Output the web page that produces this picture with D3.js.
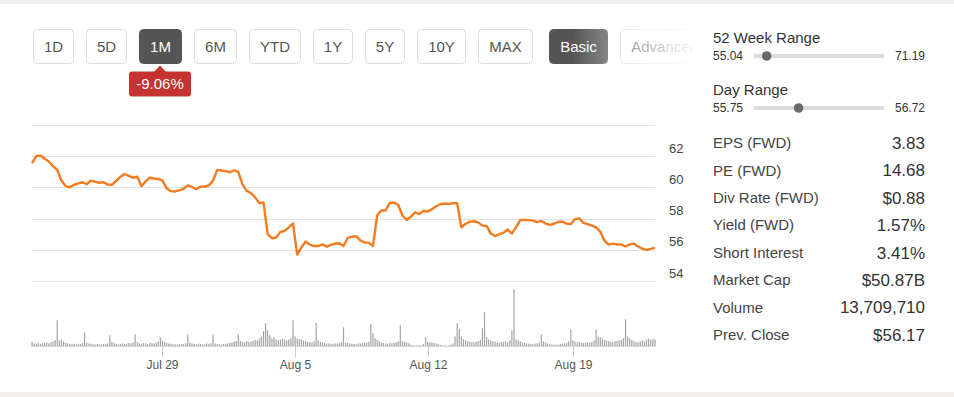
<!DOCTYPE html>
<html>
<head>
<meta charset="utf-8">
<title>Price chart</title>
<script src="https://cdn.jsdelivr.net/npm/d3@7"></script>
<style>
  body { margin: 0; background: #f2f0ef; }
  svg { display: block; font-family: "Liberation Sans", Arial, sans-serif; }
</style>
</head>
<body>
<div id="chart"></div>
<script>
// range buttons
var periods = ["1D", "5D", "1M", "6M", "YTD", "1Y", "5Y", "10Y", "MAX"];
var modes = ["Basic", "Advanced"];
var activePeriod = "1M";
var periodChange = "-9.06%";

// trading days shown in the 1M window
var days = ["Jul 22", "Jul 23", "Jul 24", "Jul 25", "Jul 26", "Jul 29", "Jul 30", "Jul 31",
  "Aug 1", "Aug 2", "Aug 5", "Aug 6", "Aug 7", "Aug 8", "Aug 9", "Aug 12", "Aug 13",
  "Aug 14", "Aug 15", "Aug 16", "Aug 19", "Aug 20", "Aug 21"];
var tickDays = ["Jul 29", "Aug 5", "Aug 12", "Aug 19"];
var yTicks = [54, 56, 58, 60, 62, 64];

// price, one point every two volume bars
var price = [61.55, 62.01, 62.04, 61.84, 61.66, 61.36, 61.12, 60.44, 60.08, 60.01,
  60.17, 60.26, 60.33, 60.20, 60.43, 60.36, 60.30, 60.33, 60.18, 60.17,
  60.42, 60.68, 60.86, 60.74, 60.62, 60.69, 60.08, 60.38, 60.62, 60.57,
  60.54, 60.43, 59.94, 59.76, 59.74, 59.81, 59.91, 60.13, 60.03, 59.88,
  60.05, 60.06, 60.13, 60.43, 61.12, 61.08, 61.04, 60.97, 61.10, 60.99,
  60.19, 59.78, 59.64, 59.36, 58.99, 59.03, 57.00, 56.74, 56.79, 57.14,
  57.21, 57.44, 57.69, 55.69, 56.15, 56.53, 56.33, 56.24, 56.24, 56.35,
  56.20, 56.32, 56.40, 56.42, 56.24, 56.76, 56.84, 56.88, 56.61, 56.46,
  56.46, 56.24, 58.20, 58.53, 58.52, 59.01, 59.03, 58.87, 58.20, 57.91,
  58.13, 58.40, 58.29, 58.50, 58.45, 58.60, 58.79, 58.92, 58.97, 58.94,
  58.99, 58.98, 57.44, 57.67, 57.79, 57.83, 57.76, 57.55, 57.53, 57.04,
  56.88, 57.01, 57.09, 57.30, 57.04, 57.46, 57.91, 57.91, 57.90, 57.87,
  57.77, 57.85, 57.68, 57.60, 57.67, 57.80, 57.80, 57.68, 57.65, 57.97,
  58.01, 57.73, 57.64, 57.55, 57.44, 57.17, 56.58, 56.33, 56.40, 56.35,
  56.34, 56.21, 56.35, 56.40, 56.21, 56.08, 55.98, 56.06, 56.14];

// volume per 30 min bar (thousands), one row per trading day
var volume = [
  [300, 210, 170, 230, 160, 190, 220, 260, 200, 280, 330, 420, 1690],
  [390, 450, 330, 240, 200, 160, 150, 170, 140, 180, 160, 220, 910],
  [240, 190, 170, 150, 130, 170, 150, 140, 160, 180, 200, 715],
  [300, 210, 180, 150, 170, 200, 160, 190, 230, 210, 260, 780],
  [280, 200, 170, 220, 190, 160, 230, 210, 190, 250, 330, 585],
  [390, 300, 220, 190, 170, 150, 140, 130, 150, 170, 160, 210, 780],
  [260, 200, 170, 150, 180, 160, 140, 150, 190, 170, 210, 780],
  [200, 170, 150, 130, 160, 180, 210, 230, 260, 300, 350, 780],
  [360, 300, 260, 330, 280, 310, 360, 420, 390, 520, 640, 980, 1500],
  [1040, 715, 520, 600, 460, 390, 430, 520, 460, 390, 450, 520, 1690],
  [650, 520, 460, 450, 390, 330, 300, 280, 260, 330, 1515],
  [400, 300, 260, 220, 190, 200, 180, 170, 210, 190, 230, 280, 1235],
  [260, 230, 200, 180, 170, 150, 200, 190, 220, 240, 260, 300, 1430],
  [845, 520, 420, 330, 260, 230, 200, 180, 220, 200, 240, 260, 330, 1365],
  [330, 300, 260, 200, 120, 80, 60, 70, 90, 80, 150, 585],
  [300, 280, 250, 230, 200, 160, 100, 70, 60, 60, 80, 120, 200, 650, 1495],
  [1150, 650, 480, 400, 350, 300, 280, 260, 300, 350, 420, 1170, 2210],
  [590, 450, 390, 330, 300, 260, 240, 280, 300, 330, 260, 390, 1040, 3700],
  [460, 390, 330, 260, 230, 200, 180, 160, 150, 180, 200, 260, 780],
  [330, 260, 200, 150, 130, 120, 110, 130, 150, 170, 200, 230, 330, 1105],
  [390, 330, 260, 300, 240, 220, 260, 280, 240, 300, 390, 1105],
  [650, 600, 520, 420, 390, 330, 300, 280, 330, 360, 390, 420, 520, 1755],
  [650, 520, 420, 330, 300, 260, 330, 390, 330, 450, 500, 420, 470, 450]
];

// key stats panel
var week52 = [55.04, 71.19];
var dayRange = [55.75, 56.72];
var lastPrice = 56.07;
var statLabels = ["EPS (FWD)", "PE (FWD)", "Div Rate (FWD)", "Yield (FWD)", "Short Interest",
  "Market Cap", "Volume", "Prev. Close"];
var statValues = ["3.83", "14.68", "$0.88", "1.57%", "3.41%", "$50.87B", "13,709,710", "$56.17"];

var W = 954, H = 397;
var svg = d3.select("#chart").append("svg")
  .attr("width", W).attr("height", H);

svg.append("rect").attr("x", 0).attr("y", 4).attr("width", W).attr("height", 388)
  .attr("fill", "#fff");

// flatten bars, remember where each day starts
var bars = [], dayStart = {};
volume.forEach(function(d, i) {
  dayStart[days[i]] = bars.length;
  d.forEach(function(v) { bars.push(v); });
});
var nBars = bars.length;
var step = (nBars - 1) / (price.length - 1);

var x = d3.scaleLinear().domain([0, nBars - 1]).range([32, 655]);
var y = d3.scaleLinear().domain([54, 64]).range([281, 125]);
var yv = d3.scaleLinear().domain([0, d3.max(bars)]).range([346.5, 289]);

// ---- buttons ----
var btnG = svg.append("g");
svg.append("clipPath").attr("id", "btnclip").append("rect")
  .attr("x", 0).attr("y", 20).attr("width", 692).attr("height", 60);
btnG.attr("clip-path", "url(#btnclip)");

var bx = 33, btnPos = {};
periods.concat(modes).forEach(function(label, i) {
  var on = label === activePeriod || label === modes[0];
  if (i === periods.length) bx += 4;
  var g = btnG.append("g");
  var r = g.append("rect").attr("y", 29.5).attr("height", 34).attr("rx", 4)
    .attr("fill", on ? "#555" : "#fff")
    .attr("stroke", on ? "#555" : "#dcdcdc");
  var t = g.append("text").attr("y", 46.5).attr("dy", "0.35em")
    .attr("text-anchor", "middle")
    .style("font-size", "15px")
    .attr("fill", on ? "#fff" : "#555")
    .text(label);
  var w = Math.round(t.node().getComputedTextLength() + 21);
  r.attr("x", bx + 0.5).attr("width", w);
  t.attr("x", bx + w / 2 + 0.5);
  btnPos[label] = bx + w / 2;
  bx += w + 13;
});

// fade at the right end of the button strip
var defs = svg.append("defs");
var fade = defs.append("linearGradient").attr("id", "fade")
  .attr("gradientUnits", "userSpaceOnUse")
  .attr("x1", 572).attr("x2", 690).attr("y1", 0).attr("y2", 0);
fade.append("stop").attr("offset", 0).attr("stop-color", "#fff").attr("stop-opacity", 0);
fade.append("stop").attr("offset", 1).attr("stop-color", "#fff").attr("stop-opacity", 0.92);
svg.append("rect").attr("x", 560).attr("y", 24).attr("width", 140).attr("height", 46)
  .attr("fill", "url(#fade)");

// change badge under the active button
var cx = btnPos[activePeriod];
svg.append("path")
  .attr("d", "M" + (cx - 6) + ",72 L" + cx + ",65.5 L" + (cx + 6) + ",72 Z")
  .attr("fill", "#c4332f");
svg.append("rect").attr("x", cx - 31).attr("y", 71.5).attr("width", 62).attr("height", 25)
  .attr("rx", 3).attr("fill", "#c4332f");
svg.append("text").attr("x", cx).attr("y", 84).attr("dy", "0.35em")
  .attr("text-anchor", "middle").style("font-size", "15px").attr("fill", "#fff")
  .text(periodChange);

// ---- price chart ----
svg.append("g").selectAll("line").data(yTicks).join("line")
  .attr("x1", 32).attr("x2", 655)
  .attr("y1", function(d) { return Math.round(y(d)) + 0.5; })
  .attr("y2", function(d) { return Math.round(y(d)) + 0.5; })
  .attr("stroke", "#e3e3e3");

svg.append("g").selectAll("text").data(yTicks.filter(function(d) { return d < 64; })).join("text")
  .attr("x", 669).attr("y", function(d) { return y(d) - 8; }).attr("dy", "0.35em")
  .style("font-size", "13px").attr("fill", "#444")
  .text(function(d) { return d; });

// volume bars
svg.append("g").selectAll("rect").data(bars).join("rect")
  .attr("x", function(d, i) { return x(i) - 0.6; })
  .attr("width", 1.2)
  .attr("y", function(d) { return yv(d); })
  .attr("height", function(d) { return yv(0) - yv(d); })
  .attr("fill", "#a3a3a3");

svg.append("line").attr("x1", 32).attr("x2", 655).attr("y1", 346.5).attr("y2", 346.5)
  .attr("stroke", "#d6d6d6");

// x axis ticks on day starts
var ticks = svg.append("g").selectAll("g").data(tickDays).join("g")
  .attr("transform", function(d) { return "translate(" + (Math.round(x(dayStart[d])) + 0.5) + ",0)"; });
ticks.append("line").attr("y1", 347).attr("y2", 357).attr("stroke", "#ccc");
ticks.append("text").attr("y", 365).attr("dy", "0.35em").attr("text-anchor", "middle")
  .style("font-size", "12px").attr("fill", "#555")
  .text(function(d) { return d; });

// price line
var line = d3.line()
  .x(function(d, i) { return x(i * step); })
  .y(function(d) { return y(d); });
svg.append("path").datum(price)
  .attr("d", line)
  .attr("fill", "none")
  .attr("stroke", "#f47b20")
  .attr("stroke-width", 2.4)
  .attr("stroke-linejoin", "round");

// ---- key stats ----
var panel = svg.append("g");
var knob = d3.scaleLinear().range([759, 879]).clamp(true);

function rangeRow(title, lo, hi, top) {
  panel.append("text").attr("x", 713).attr("y", top).attr("dy", "0.35em")
    .style("font-size", "15px").attr("fill", "#333").text(title);
  panel.append("text").attr("x", 713).attr("y", top + 18).attr("dy", "0.35em")
    .style("font-size", "12px").attr("fill", "#333").text(lo.toFixed(2));
  panel.append("text").attr("x", 925).attr("y", top + 18).attr("dy", "0.35em")
    .attr("text-anchor", "end")
    .style("font-size", "12px").attr("fill", "#333").text(hi.toFixed(2));
  panel.append("rect").attr("x", 754).attr("y", top + 16).attr("width", 130).attr("height", 4)
    .attr("fill", "#dcdcdc");
  knob.domain([lo, hi]);
  panel.append("circle").attr("cx", knob(lastPrice)).attr("cy", top + 18).attr("r", 4.8)
    .attr("fill", "#6a6a6a");
}
rangeRow("52 Week Range", week52[0], week52[1], 38);
rangeRow("Day Range", dayRange[0], dayRange[1], 90);

statLabels.forEach(function(label, i) {
  var cy = 143 + i * 27.4;
  panel.append("text").attr("x", 713).attr("y", cy).attr("dy", "0.35em")
    .style("font-size", "15px").attr("fill", "#444").text(label);
  panel.append("text").attr("x", 925).attr("y", cy).attr("dy", "0.35em")
    .attr("text-anchor", "end")
    .style("font-size", "17px").attr("fill", "#333").text(statValues[i]);
});
</script>
</body>
</html>
